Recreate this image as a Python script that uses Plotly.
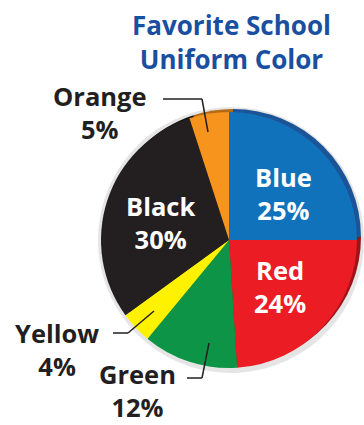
import plotly.graph_objects as go

W, H = 364, 425

categories = ["Blue", "Red", "Green", "Yellow", "Black", "Orange"]
percents = [25, 24, 12, 4, 30, 5]
colors = ["#1172BC", "#EC1C24", "#0E9447", "#FFF200", "#231F20", "#F7941D"]
rim_colors = ["#1B5497", "#9E1219", "#0A6B33", "#B8AE00", "#111111", "#B36A14"]
title_text = "Favorite School<br>Uniform Color"


def px(x):
    return x / W


def py(y):
    return 1 - y / H


# pie geometry (pixels)
cx, cy, r = 229, 240, 128

fig = go.Figure()

# soft shadow
fig.add_trace(go.Pie(
    labels=categories, values=percents, sort=False, direction="clockwise",
    marker=dict(colors=["rgba(0,0,0,0.10)"] * 6, line=dict(width=0)),
    textinfo="none", hoverinfo="skip", showlegend=False,
    domain=dict(x=[px(cx - r - 3), px(cx + r + 7)], y=[py(cy + r + 5), py(cy - r - 5)]),
))
# darker rim (3D edge)
fig.add_trace(go.Pie(
    labels=categories, values=percents, sort=False, direction="clockwise",
    marker=dict(colors=rim_colors, line=dict(width=0)),
    textinfo="none", hoverinfo="skip", showlegend=False,
    domain=dict(x=[px(cx - r + 4), px(cx + r + 4)], y=[py(cy + r - 3), py(cy - r - 3)]),
))
# main pie
fig.add_trace(go.Pie(
    labels=categories, values=percents, sort=False, direction="clockwise",
    marker=dict(colors=colors, line=dict(width=0)),
    textinfo="none", hoverinfo="skip", showlegend=False,
    domain=dict(x=[px(cx - r), px(cx + r)], y=[py(cy + r), py(cy - r)]),
))

FONT = "Open Sans"
FS = 25.5
ann = []
# title
ann.append(dict(x=px(231), y=py(42), text=title_text, showarrow=False,
                font=dict(family=FONT, size=26, color="#1A4F9F", weight="bold"),
                xanchor="center", yanchor="middle"))

# label centers (pixels) and text color
label_pos = {
    "Blue": (283, 193, "white"),
    "Red": (280, 286, "white"),
    "Black": (160, 223, "white"),
    "Orange": (100, 112, "#231F20"),
    "Yellow": (57, 349, "#231F20"),
    "Green": (137, 390, "#231F20"),
}
for cat, p in zip(categories, percents):
    x, y, col = label_pos[cat]
    ann.append(dict(x=px(x), y=py(y), text=f"{cat}<br>{p}%", showarrow=False,
                    font=dict(family=FONT, size=FS, color=col, weight="bold"),
                    xanchor="center", yanchor="middle", borderpad=0))

# leader lines
leaders = [
    [(163, 99), (202, 99), (208, 132)],
    [(113, 333), (128, 333), (154, 311)],
    [(187, 378), (202, 378), (209, 343)],
]
shapes = []
for pts in leaders:
    for (x0, y0), (x1, y1) in zip(pts[:-1], pts[1:]):
        shapes.append(dict(type="line", xref="paper", yref="paper",
                           x0=px(x0), y0=py(y0), x1=px(x1), y1=py(y1),
                           line=dict(color="#231F20", width=1.5)))

fig.update_layout(
    width=W, height=H,
    margin=dict(l=0, r=0, t=0, b=0),
    paper_bgcolor="white", plot_bgcolor="white",
    annotations=ann, shapes=shapes, showlegend=False,
)

fig.write_html("out.html")
